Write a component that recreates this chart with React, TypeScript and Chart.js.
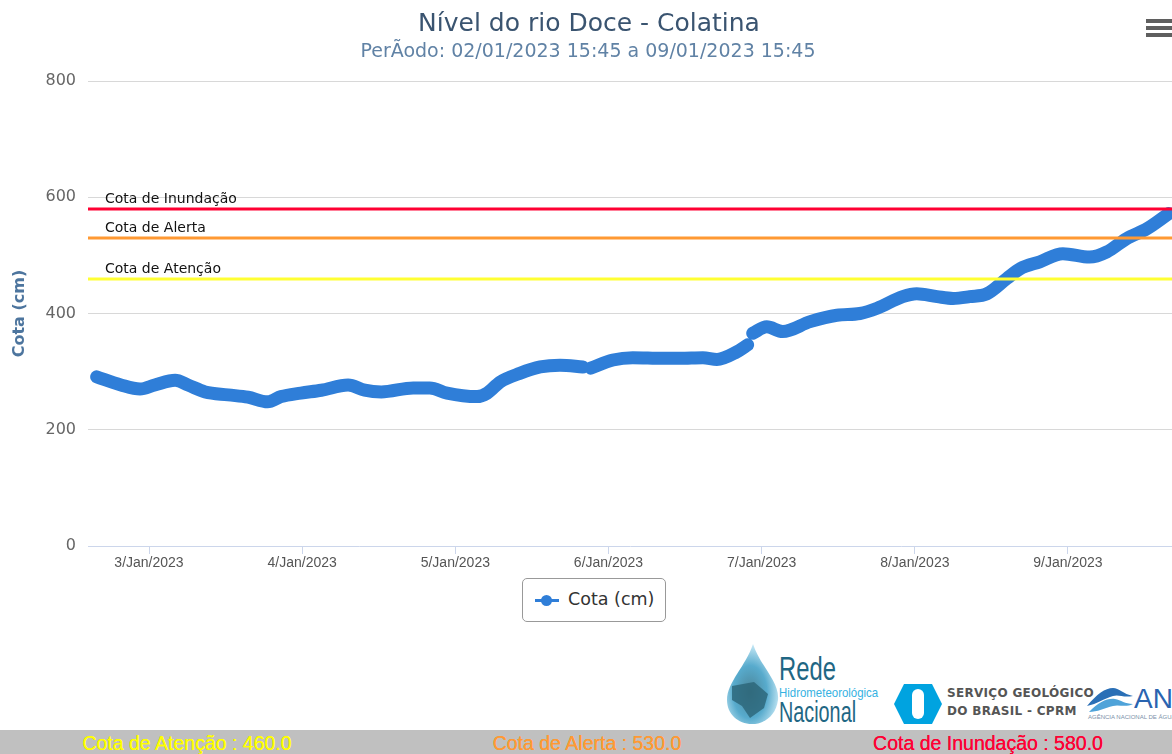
import React, { useEffect, useRef } from 'react';
import { Chart, registerables } from 'chart.js';

Chart.register(...registerables);

// Hours since 3 Jan 2023 00:00 (period 02/01/2023 15:45 .. 09/01/2023 15:45)
const hours: number[] = [
  -8.2, -4.4, -1.4, 0.9, 4.1, 6.1, 8.8, 12.4, 15.5, 18.6, 20.7, 23.8, 27.0, 31.2, 33.8, 36.4,
  41.4, 44.0, 46.7, 51.4, 53.0, 55.0, 58.1, 61.3, 64.4, 68.0, 68.6, 69.2, 72.7, 75.8, 80.5,
  83.2, 86.8, 89.0, 92.1, 93.8, 94.2, 94.6, 96.8, 99.3, 103.6, 107.8, 111.4, 114.1, 118.1,
  120.3, 123.5, 126.0, 128.6, 131.3, 134.4, 136.5, 139.6, 143.2, 147.4, 150.1, 153.2, 156.4, 159.8,
];
const levels: (number | null)[] = [
  291, 277, 270, 277, 285, 277, 265, 260, 256, 248, 257, 263, 268, 277, 268, 265,
  272, 272, 263, 257, 263, 282, 297, 308, 311, 308, null, 306, 320, 324, 323,
  323, 324, 321, 334, 346, null, 366, 377, 369, 386, 397, 400, 409, 429,
  434, 429, 426, 429, 434, 460, 477, 489, 503, 497, 506, 529, 546, 572,
];
const dayTicks = [0, 24, 48, 72, 96, 120, 144];
const dayLabels = ['3/Jan/2023', '4/Jan/2023', '5/Jan/2023', '6/Jan/2023', '7/Jan/2023', '8/Jan/2023', '9/Jan/2023'];
const yTicks = [0, 200, 400, 600, 800];
const thresholdValues = [580, 530, 460];
const thresholdLabels = ['Cota de Inundação', 'Cota de Alerta', 'Cota de Atenção'];
const thresholdColors = ['#ff0033', '#ff9933', '#ffff33'];
const seriesLabel = 'Cota (cm)';
const titleText = 'Nível do rio Doce - Colatina';
const subtitleText = 'PerÃodo: 02/01/2023 15:45 a 09/01/2023 15:45';
const X_MIN = -9.56;
const X_MAX = 160.3;

const thresholdPlugin = {
  id: 'thresholds',
  afterDatasetsDraw(chart: any) {
    const { ctx, chartArea, scales } = chart;
    const y = scales.y;
    ctx.save();
    thresholdValues.forEach((v, i) => {
      const py = Math.round(y.getPixelForValue(v));
      ctx.strokeStyle = thresholdColors[i];
      ctx.lineWidth = 3;
      ctx.beginPath();
      ctx.moveTo(chartArea.left, py);
      ctx.lineTo(chartArea.right, py);
      ctx.stroke();
      ctx.fillStyle = '#111';
      ctx.font = '14px "DejaVu Sans"';
      ctx.textBaseline = 'alphabetic';
      ctx.textAlign = 'left';
      ctx.fillText(thresholdLabels[i], chartArea.left + 17, py - 6);
    });
    ctx.restore();
  },
};

function ChartCanvas() {
  const ref = useRef<HTMLCanvasElement | null>(null);
  useEffect(() => {
    if (!ref.current) return;
    const chart = new Chart(ref.current, {
      type: 'line',
      data: {
        datasets: [
          {
            label: seriesLabel,
            data: hours.map((h, i) => ({ x: h, y: levels[i] })) as any,
            borderColor: '#2f7ed8',
            backgroundColor: '#2f7ed8',
            borderWidth: 13,
            pointRadius: 0,
            cubicInterpolationMode: 'monotone',
            borderCapStyle: 'round',
            borderJoinStyle: 'round',
            spanGaps: false,
          },
        ],
      },
      options: {
        animation: false,
        responsive: false,
        maintainAspectRatio: false,
        layout: { padding: { top: 81, left: 0, right: 0, bottom: 0 } },
        plugins: { legend: { display: false }, tooltip: { enabled: false } },
        scales: {
          x: {
            type: 'linear',
            min: X_MIN,
            max: X_MAX,
            afterBuildTicks: (s: any) => {
              s.ticks = dayTicks.map((v) => ({ value: v }));
            },
            afterFit: (s: any) => {
              s.height = 54;
            },
            ticks: {
              callback: (v: any) => dayLabels[dayTicks.indexOf(Number(v))] ?? '',
              color: '#555',
              font: { family: '"Liberation Sans", Arial, sans-serif', size: 14 },
              padding: 1,
              maxRotation: 0,
              autoSkip: false,
            },
            grid: { drawOnChartArea: false, drawTicks: true, tickLength: 8, color: '#ccd6eb' },
            border: { color: '#ccd6eb', width: 1 },
          },
          y: {
            type: 'linear',
            min: 0,
            max: 800,
            afterBuildTicks: (s: any) => {
              s.ticks = yTicks.map((v) => ({ value: v }));
            },
            afterFit: (s: any) => {
              s.width = 88;
            },
            ticks: {
              color: '#666',
              font: { family: '"DejaVu Sans", sans-serif', size: 16 },
              padding: 12,
            },
            grid: {
              drawTicks: false,
              color: (c: any) => (c.tick && c.tick.value === 0 ? 'rgba(0,0,0,0)' : '#d8d8d8'),
            },
            border: { display: false },
            title: {
              display: true,
              text: seriesLabel,
              color: '#4d759e',
              font: { family: '"DejaVu Sans", sans-serif', size: 16, weight: 'bold' },
              padding: { top: 10, bottom: 0 },
            },
          },
        },
      },
      plugins: [thresholdPlugin],
    });
    return () => chart.destroy();
  }, []);
  return (
    <canvas
      ref={ref}
      width={1172}
      height={600}
      style={{ position: 'absolute', left: 0, top: 0, width: 1172, height: 600, display: 'block' }}
    />
  );
}

export default function App() {
  return (
    <div
      style={{
        position: 'absolute',
        left: 0,
        top: 0,
        width: 1172,
        height: 754,
        overflow: 'hidden',
        background: '#fff',
        fontFamily: '"DejaVu Sans", sans-serif',
      }}
    >
      <ChartCanvas />
      {/* title */}
      <div
        style={{
          position: 'absolute', left: 0, top: 8, width: 1178, textAlign: 'center',
          fontSize: 25, lineHeight: '30px', color: '#3a5470', whiteSpace: 'nowrap',
        }}
      >
        {titleText}
      </div>
      <div
        style={{
          position: 'absolute', left: 0, top: 38, width: 1176, textAlign: 'center',
          fontSize: 19, lineHeight: '24px', color: '#6082a5', whiteSpace: 'nowrap',
        }}
      >
        {subtitleText}
      </div>
      {/* menu icon */}
      {[19, 26, 33].map((t) => (
        <div key={t} style={{ position: 'absolute', left: 1146, top: t, width: 30, height: 4, background: '#5f5f5f' }} />
      ))}
      {/* legend */}
      <div
        style={{
          position: 'absolute', left: 522, top: 578, width: 142, height: 42,
          border: '1px solid #999', borderRadius: 5, background: '#fff',
        }}
      >
        <div style={{ position: 'absolute', left: 12, top: 20, width: 24, height: 3, background: '#2f7ed8' }} />
        <div style={{ position: 'absolute', left: 18, top: 16, width: 11, height: 11, borderRadius: '50%', background: '#2f7ed8' }} />
        <div style={{ position: 'absolute', left: 45, top: 9, fontSize: 17.5, lineHeight: '22px', color: '#333', whiteSpace: 'nowrap' }}>
          {seriesLabel}
        </div>
      </div>
      {/* logos */}
      <svg style={{ position: 'absolute', left: 724, top: 642 }} width={58} height={84} viewBox="0 0 58 84">
        <defs>
          <radialGradient id="dropg" cx="0.45" cy="0.6" r="0.6">
            <stop offset="0" stopColor="#2c6f86" />
            <stop offset="0.55" stopColor="#3a9cc4" />
            <stop offset="1" stopColor="#bfe6f5" />
          </radialGradient>
        </defs>
        <path d="M29 2 C 36 24, 56 40, 54 58 C 52 74, 40 82, 28 82 C 14 82, 3 72, 3 58 C 3 40, 22 24, 29 2 Z" fill="url(#dropg)" opacity="0.85" />
        <path d="M8 44 L 30 40 L 44 52 L 40 66 L 26 76 L 18 64 L 8 58 Z" fill="#2b6477" opacity="0.8" />
      </svg>
      <div style={{ position: 'absolute', left: 779, top: 650, fontFamily: '"Liberation Sans", Arial', fontSize: 34, lineHeight: '36px', color: '#1f6784', transform: 'scaleX(0.7)', transformOrigin: 'left top', whiteSpace: 'nowrap' }}>Rede</div>
      <div style={{ position: 'absolute', left: 779, top: 685, fontFamily: '"Liberation Sans", Arial', fontSize: 13, lineHeight: '15px', color: '#35b2e2', transform: 'scaleX(0.88)', transformOrigin: 'left top', whiteSpace: 'nowrap' }}>Hidrometeorológica</div>
      <div style={{ position: 'absolute', left: 779, top: 697, fontFamily: '"Liberation Sans", Arial', fontSize: 30, lineHeight: '30px', color: '#1f6784', transform: 'scaleX(0.66)', transformOrigin: 'left top', whiteSpace: 'nowrap' }}>Nacional</div>
      <svg style={{ position: 'absolute', left: 894, top: 684 }} width={48} height={40} viewBox="0 0 48 40">
        <polygon points="10,0 38,0 48,20 38,40 10,40 0,20" fill="#00a3e0" />
        <rect x="18" y="5" width="12" height="30" rx="6" fill="#fff" />
      </svg>
      <div style={{ position: 'absolute', left: 947, top: 686, fontSize: 12, lineHeight: '14px', fontWeight: 'bold', color: '#555', whiteSpace: 'nowrap', letterSpacing: 0.3 }}>SERVIÇO GEOLÓGICO</div>
      <div style={{ position: 'absolute', left: 947, top: 704, fontSize: 12, lineHeight: '14px', fontWeight: 'bold', color: '#555', whiteSpace: 'nowrap', letterSpacing: 0.3 }}>DO BRASIL - CPRM</div>
      <svg style={{ position: 'absolute', left: 1087, top: 684 }} width={46} height={30} viewBox="0 0 46 30">
        <path d="M0 22 C 10 10, 18 4, 26 4 C 32 4, 36 10, 46 12 C 36 14, 32 10, 26 12 C 18 14, 10 20, 0 22 Z" fill="#2a6fb6" />
        <path d="M2 28 C 12 18, 20 14, 28 15 C 34 16, 38 20, 46 20 C 38 24, 32 20, 26 22 C 18 24, 10 28, 2 28 Z" fill="#4fa3d9" />
      </svg>
      <div style={{ position: 'absolute', left: 1134, top: 684, fontFamily: '"Liberation Sans", Arial', fontSize: 28, lineHeight: '30px', color: '#2a64b0', whiteSpace: 'nowrap' }}>ANA</div>
      <div style={{ position: 'absolute', left: 1088, top: 714, fontFamily: '"Liberation Sans", Arial', fontSize: 6, lineHeight: '7px', color: '#7a8fa8', whiteSpace: 'nowrap' }}>AGÊNCIA NACIONAL DE ÁGUAS</div>
      {/* bottom status bar */}
      <div style={{ position: 'absolute', left: 0, top: 730, width: 1172, height: 24, background: '#c0c0c0' }} />
      {[
        { t: 'Cota de Atenção : 460.0', c: '#ffff00', x: 187 },
        { t: 'Cota de Alerta : 530.0', c: '#ff9933', x: 587 },
        { t: 'Cota de Inundação : 580.0', c: '#ff0033', x: 988 },
      ].map((o) => (
        <div
          key={o.t}
          style={{
            position: 'absolute', left: o.x - 200, top: 731, width: 400, textAlign: 'center',
            fontFamily: '"Liberation Sans", Arial', fontSize: 19.5, lineHeight: '24px', color: o.c,
            whiteSpace: 'nowrap', textShadow: '0 0 0.4px ' + o.c,
          }}
        >
          {o.t}
        </div>
      ))}
    </div>
  );
}
